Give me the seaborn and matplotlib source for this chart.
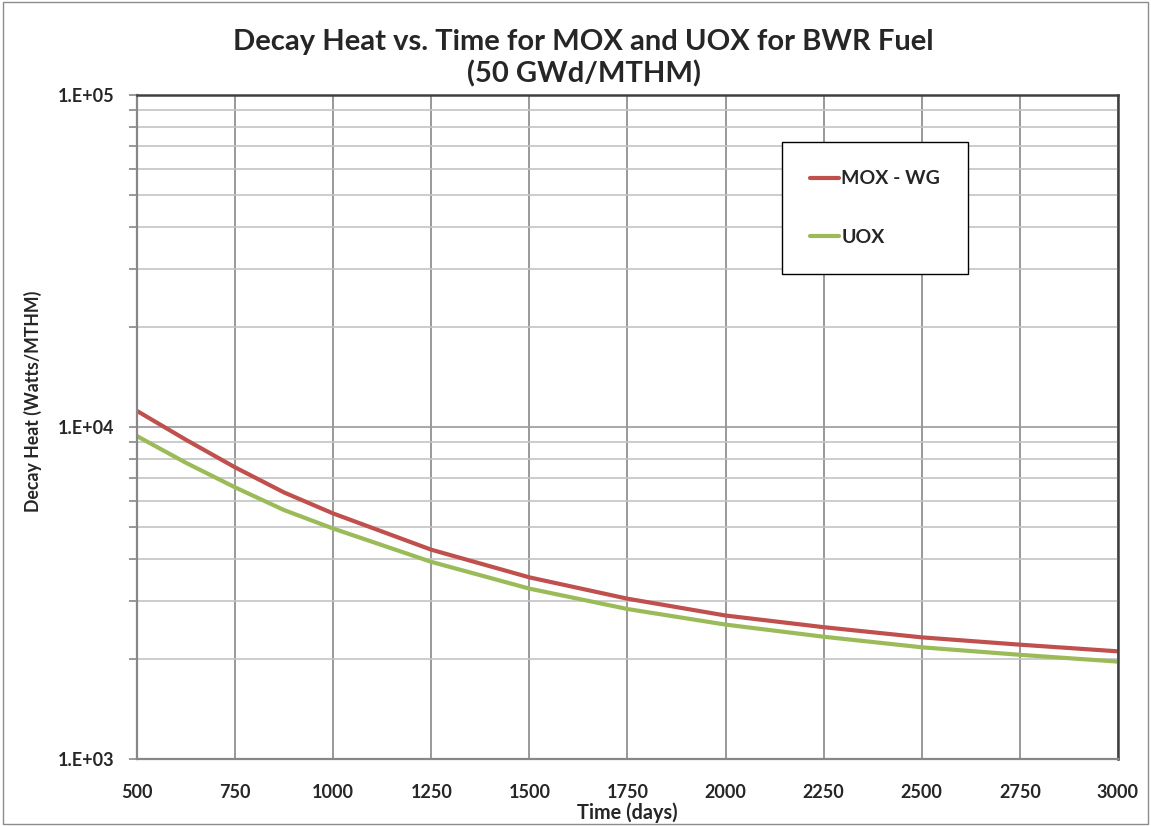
"""
Decay heat vs. time for MOX and UOX BWR fuel (50 GWd/MTHM)
Libraries: pandas, matplotlib, seaborn
"""

import numpy as np
import pandas as pd
import matplotlib
matplotlib.use("Agg")
import matplotlib.pyplot as plt
import matplotlib.ticker as mticker
from matplotlib.patches import Rectangle
import seaborn as sns

# -------------------------------
# Data
# -------------------------------
time_days = [500, 625, 750, 875, 1000, 1250, 1500, 1750, 2000, 2250, 2500, 2750, 3000]
mox_wg = [11180, 9150, 7560, 6350, 5490, 4270, 3525, 3040, 2705, 2495, 2325, 2210, 2110]
uox = [9390, 7800, 6580, 5620, 4945, 3925, 3260, 2830, 2540, 2335, 2170, 2060, 1965]
series_names = ["MOX - WG", "UOX"]
series_colors = ["#C0504D", "#9BBB59"]
x_ticks = [500, 750, 1000, 1250, 1500, 1750, 2000, 2250, 2500, 2750, 3000]

df = pd.DataFrame({
    "Time": time_days * 2,
    "Heat": mox_wg + uox,
    "Fuel": [series_names[0]] * len(time_days) + [series_names[1]] * len(time_days),
})

# -------------------------------
# Style settings
# -------------------------------
sns.set_theme(style="white")
plt.rcParams["font.family"] = ["Lato", "DejaVu Sans"]

fig = plt.figure(figsize=(11.51, 8.26), dpi=100)
ax = fig.add_axes([0.119, 0.0811, 0.8523, 0.8039])

sns.lineplot(data=df, x="Time", y="Heat", hue="Fuel", palette=series_colors,
             linewidth=3, ax=ax, sort=True)

ax.set_yscale("log")
ax.set_xlim(500, 3000)
ax.set_ylim(1e3, 1e5)
ax.set_xticks(x_ticks)
ax.yaxis.set_major_locator(mticker.LogLocator(base=10, numticks=5))
ax.yaxis.set_minor_locator(mticker.LogLocator(base=10, subs=np.arange(2, 10), numticks=20))
ax.yaxis.set_major_formatter(mticker.FuncFormatter(lambda v, p: f"1.E+{int(round(np.log10(v))):02d}"))
ax.yaxis.set_minor_formatter(mticker.NullFormatter())

# gridlines
ax.grid(True, which="major", axis="x", color="#878787", linewidth=1.2)
ax.grid(True, which="major", axis="y", color="#9a9a9a", linewidth=1.2)
ax.grid(True, which="minor", axis="y", color="#c4c4c4", linewidth=1.2)
ax.set_axisbelow(True)

# spines
for side in ["left", "bottom"]:
    ax.spines[side].set_color("#878787")
    ax.spines[side].set_linewidth(1.6)
for side in ["top", "right"]:
    ax.spines[side].set_color("#404040")
    ax.spines[side].set_linewidth(1.8)

ax.tick_params(axis="y", which="both", left=True, direction="out", length=6,
               width=1.2, color="#878787", labelsize=13, pad=10)
ax.tick_params(axis="x", which="both", bottom=False, labelsize=13, pad=12)
for lbl in ax.get_xticklabels() + ax.get_yticklabels():
    lbl.set_fontweight("bold")

ax.set_xlabel("Time (days)", fontsize=14.3, fontweight="bold", labelpad=1)
ax.set_ylabel("Decay Heat (Watts/MTHM)", fontsize=12.8, fontweight="bold")
ax.yaxis.set_label_coords(-0.097, 0.538)

fig.suptitle("Decay Heat vs. Time for MOX and UOX for BWR Fuel\n(50 GWd/MTHM)",
             x=0.507, y=0.965, fontsize=21, fontweight="bold", linespacing=1.25)

# legend
leg = ax.legend(loc="upper left", bbox_to_anchor=(0.6575, 0.929), borderaxespad=0,
                frameon=True, fancybox=False, edgecolor="black", framealpha=1,
                prop={"weight": "bold", "size": 14}, labelspacing=2.15,
                handlelength=1.5, handletextpad=0.1, borderpad=1.45)
leg.get_frame().set_linewidth(1.0)
for t in leg.get_texts():
    t.set_fontweight("bold")

# outer chart border
fig.patches.append(Rectangle((0.003, 0.002), 0.994, 0.996, transform=fig.transFigure,
                             fill=False, edgecolor="#8c8c8c", linewidth=1.0))

fig.savefig("out.png", dpi=100)
